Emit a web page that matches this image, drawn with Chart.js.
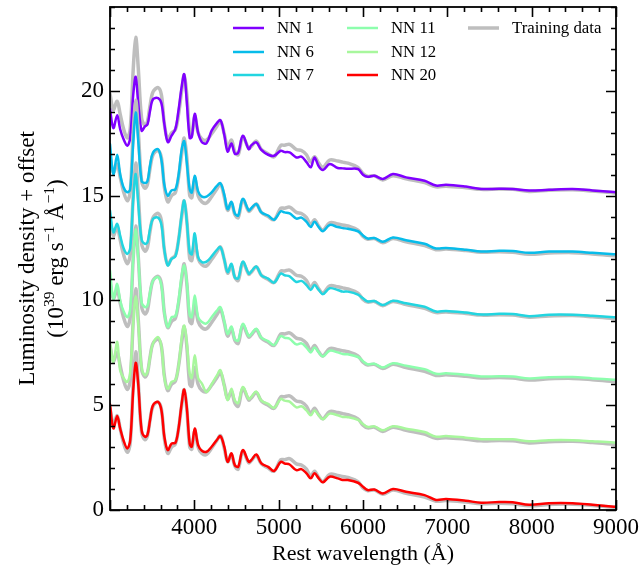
<!DOCTYPE html>
<html lang="en">
<head>
<meta charset="UTF-8" />
<title>NN spectra</title>
<script src="https://cdn.jsdelivr.net/npm/chart.js@4"></script>
<style>
  body { margin: 0; background: #fff; }
</style>
</head>
<body>
<canvas id="myChart" width="641" height="571"></canvas>
<script>
// rest wavelength grid (Angstrom)
const wavelength = [3000, 3040, 3085, 3120, 3160, 3205, 3240, 3275, 3305, 3335,
  3375, 3415, 3445, 3475, 3510, 3570, 3610, 3645, 3685, 3730,
  3775, 3810, 3850, 3880, 3910, 3945, 3970, 4005, 4045, 4090,
  4145, 4205, 4265, 4310, 4355, 4395, 4440, 4480, 4520, 4575,
  4645, 4675, 4735, 4795, 4875, 4945, 5025, 5070, 5130, 5210,
  5270, 5330, 5380, 5425, 5475, 5525, 5605, 5700, 5760, 5820,
  5940, 6000, 6055, 6135, 6235, 6355, 6510, 6730, 6865, 6985,
  7220, 7400, 7615, 7775, 7970, 8205, 8485, 8720, 8975, 9000];

// luminosity density, 1e39 erg/s/A, no offset
const trainingData = [4.85, 4.1, 4.5, 3.9, 3.2, 2.75, 3.2, 6.0, 7.55, 6.1,
  3.7, 3.35, 3.55, 4.3, 4.95, 5.15, 4.8, 3.4, 2.7, 3.0,
  3.15, 3.8, 5.0, 5.75, 4.85, 3.0, 2.9, 3.8, 3.0, 2.7,
  2.65, 2.95, 3.3, 3.55, 2.95, 2.3, 2.65, 2.1, 1.95, 2.8,
  2.25, 2.35, 2.6, 2.2, 2.0, 1.85, 2.4, 2.4, 2.45, 2.2,
  2.15, 1.95, 1.6, 1.85, 1.55, 1.35, 1.7, 1.65, 1.6, 1.55,
  1.35, 1.05, 0.92, 0.95, 0.75, 0.95, 0.8, 0.62, 0.42, 0.45,
  0.38, 0.3, 0.32, 0.3, 0.2, 0.26, 0.28, 0.22, 0.13, 0.12];

const nn1 = [4.13, 3.22, 3.84, 3.18, 2.7, 2.38, 2.78, 4.8, 5.67, 4.4,
  3.1, 3.3, 3.4, 4.05, 4.6, 4.65, 4.4, 3.4, 2.55, 2.86,
  3.18, 4.0, 5.2, 5.79, 4.5, 2.75, 2.8, 3.9, 3.0, 2.55,
  2.5, 3.1, 3.45, 3.6, 2.9, 2.1, 2.49, 2.0, 2.05, 2.86,
  2.22, 2.4, 2.54, 2.18, 1.95, 1.9, 2.14, 2.08, 2.06, 1.82,
  1.86, 1.6, 1.35, 1.82, 1.4, 1.22, 1.51, 1.32, 1.3, 1.28,
  1.27, 1.0, 0.9, 0.95, 0.79, 1.03, 0.87, 0.71, 0.48, 0.52,
  0.43, 0.32, 0.33, 0.32, 0.24, 0.28, 0.32, 0.25, 0.17, 0.16];

const nn6 = [5.46, 4.03, 4.95, 4.03, 3.4, 3.16, 3.3, 5.5, 6.97, 5.6,
  3.7, 3.6, 3.7, 4.45, 5.05, 5.22, 4.7, 3.5, 3.0, 3.25,
  3.3, 3.9, 5.2, 5.6, 4.6, 3.3, 3.15, 3.95, 3.2, 2.95,
  2.95, 3.15, 3.45, 3.59, 3.05, 2.35, 2.7, 2.15, 2.05, 2.85,
  2.3, 2.4, 2.6, 2.2, 2.05, 1.85, 2.25, 2.2, 2.15, 1.9,
  1.95, 1.75, 1.5, 1.75, 1.5, 1.3, 1.6, 1.5, 1.45, 1.42,
  1.3, 1.1, 0.95, 0.98, 0.8, 1.0, 0.87, 0.7, 0.48, 0.5,
  0.42, 0.33, 0.37, 0.36, 0.27, 0.33, 0.33, 0.27, 0.2, 0.2];

const nn7 = [5.29, 4.25, 4.65, 4.1, 3.5, 3.22, 3.5, 5.8, 7.03, 5.6,
  3.9, 3.7, 3.78, 4.41, 4.89, 4.95, 4.6, 3.4, 2.67, 2.98,
  3.1, 3.8, 5.1, 5.76, 4.8, 3.3, 3.2, 4.2, 3.06, 2.83,
  2.85, 3.1, 3.4, 3.54, 2.95, 2.35, 2.75, 2.1, 2.05, 2.85,
  2.28, 2.38, 2.62, 2.2, 2.04, 1.85, 2.28, 2.2, 2.15, 1.88,
  1.93, 1.73, 1.5, 1.73, 1.5, 1.3, 1.58, 1.5, 1.42, 1.42,
  1.28, 1.1, 0.95, 0.97, 0.78, 0.98, 0.86, 0.7, 0.47, 0.5,
  0.42, 0.33, 0.36, 0.35, 0.25, 0.32, 0.32, 0.27, 0.2, 0.19];

const nn11 = [5.43, 4.08, 4.79, 4.0, 3.5, 3.2, 3.6, 6.0, 7.4, 6.0,
  3.9, 3.68, 3.75, 4.4, 4.95, 5.11, 4.7, 3.4, 2.73, 3.2,
  3.25, 3.9, 5.2, 5.67, 4.9, 3.3, 3.2, 4.24, 3.2, 2.97,
  2.9, 3.2, 3.5, 3.68, 3.0, 2.4, 2.75, 2.15, 2.08, 2.88,
  2.3, 2.4, 2.65, 2.22, 2.06, 1.87, 2.3, 2.22, 2.17, 1.9,
  1.95, 1.75, 1.52, 1.75, 1.52, 1.33, 1.6, 1.52, 1.44, 1.43,
  1.3, 1.1, 0.95, 0.98, 0.8, 1.0, 0.88, 0.72, 0.5, 0.52,
  0.45, 0.37, 0.38, 0.37, 0.28, 0.33, 0.34, 0.28, 0.22, 0.21];

const nn12 = [4.94, 4.06, 5.02, 3.67, 3.3, 3.11, 3.6, 5.9, 7.2, 5.9,
  3.8, 3.43, 3.6, 4.3, 4.95, 5.25, 4.8, 3.3, 2.79, 3.11,
  3.2, 3.8, 5.2, 5.8, 5.0, 3.5, 3.3, 4.38, 3.3, 3.03,
  2.63, 3.0, 3.4, 3.67, 2.9, 2.24, 2.79, 2.24, 2.1, 2.87,
  2.3, 2.4, 2.65, 2.22, 2.06, 1.87, 2.3, 2.22, 2.17, 1.9,
  1.95, 1.75, 1.52, 1.75, 1.52, 1.33, 1.6, 1.52, 1.44, 1.43,
  1.3, 1.1, 0.96, 0.99, 0.8, 1.0, 0.88, 0.72, 0.5, 0.53,
  0.45, 0.38, 0.38, 0.37, 0.28, 0.33, 0.33, 0.28, 0.22, 0.2];

const nn20 = [5.05, 3.89, 4.48, 3.9, 3.33, 2.94, 3.33, 5.7, 7.02, 6.0,
  3.8, 3.49, 3.6, 4.29, 5.0, 5.16, 4.76, 3.49, 2.86, 3.17,
  3.2, 3.81, 5.08, 5.75, 4.92, 3.17, 3.02, 3.89, 3.1, 2.83,
  2.78, 3.02, 3.33, 3.52, 3.02, 2.3, 2.7, 2.14, 2.06, 2.86,
  2.3, 2.38, 2.65, 2.22, 2.06, 1.86, 2.3, 2.22, 2.17, 1.9,
  1.95, 1.75, 1.51, 1.75, 1.51, 1.32, 1.59, 1.51, 1.43, 1.43,
  1.3, 1.11, 0.95, 0.98, 0.79, 1.0, 0.87, 0.71, 0.48, 0.52,
  0.44, 0.35, 0.38, 0.37, 0.25, 0.32, 0.32, 0.25, 0.16, 0.15];

const modelNames = ['NN 1', 'NN 6', 'NN 7', 'NN 11', 'NN 12', 'NN 20'];
const modelSpectra = [nn1, nn6, nn7, nn11, nn12, nn20];
const offsets = [15, 12, 9, 6, 3, 0];
const modelColors = ['#8000ff', '#07bcea', '#22d5e0', '#8dfead', '#a8f79d', '#ff0000'];
const trainingColor = '#bebebe';

const xMajorTicks = [4000, 5000, 6000, 7000, 8000, 9000];
const yMajorTicks = [0, 5, 10, 15, 20];

const FONT = "'Liberation Serif', 'DejaVu Serif', serif";

function points(vals, off) {
  return wavelength.map((w, i) => ({ x: w, y: vals[i] + off }));
}

// grey training spectrum under each model, model drawn on top; later models over earlier
const datasets = [];
let order = 2 * modelNames.length;
modelNames.forEach((name, i) => {
  datasets.push({
    label: 'Training data',
    data: points(trainingData, offsets[i]),
    borderColor: trainingColor,
    borderWidth: 3.5,
    order: order--
  });
  datasets.push({
    label: name,
    data: points(modelSpectra[i], offsets[i]),
    borderColor: modelColors[i],
    borderWidth: 2.5,
    order: order--
  });
});

// frame with inward ticks on all four sides
const frameTicks = {
  id: 'frameTicks',
  afterDatasetsDraw(chart) {
    const { ctx, chartArea: a, scales: { x, y } } = chart;
    ctx.save();
    ctx.strokeStyle = '#000';
    ctx.lineWidth = 1.6;
    ctx.beginPath();
    for (let v = 3000; v <= 9000; v += 200) {
      const px = Math.round(x.getPixelForValue(v)) + 0.5;
      const len = v % 1000 === 0 ? 10 : 5;
      ctx.moveTo(px, a.bottom); ctx.lineTo(px, a.bottom - len);
      ctx.moveTo(px, a.top); ctx.lineTo(px, a.top + len);
    }
    for (let v = 0; v <= 24; v += 1) {
      const py = Math.round(y.getPixelForValue(v)) + 0.5;
      const len = v % 5 === 0 ? 10 : 5;
      ctx.moveTo(a.left, py); ctx.lineTo(a.left + len, py);
      ctx.moveTo(a.right, py); ctx.lineTo(a.right - len, py);
    }
    ctx.stroke();
    ctx.lineWidth = 1.8;
    ctx.strokeRect(a.left, a.top, a.right - a.left, a.bottom - a.top);
    ctx.restore();
  }
};

// three-column legend, filled column by column
const columnLegend = {
  id: 'columnLegend',
  afterDraw(chart) {
    const ctx = chart.ctx;
    const items = modelNames.map((n, i) => ({ text: n, color: modelColors[i] }));
    items.push({ text: 'Training data', color: trainingColor });
    const colX = [233, 347, 468];
    const rowY = [28, 52, 75];
    ctx.save();
    ctx.font = '16.8px ' + FONT;
    ctx.textBaseline = 'middle';
    ctx.fillStyle = '#000';
    items.forEach((it, k) => {
      const cx = colX[Math.floor(k / 3)];
      const cy = rowY[k % 3];
      ctx.strokeStyle = it.color;
      ctx.lineWidth = it.color === trainingColor ? 3.5 : 2.5;
      ctx.beginPath();
      ctx.moveTo(cx, cy); ctx.lineTo(cx + 31, cy);
      ctx.stroke();
      ctx.fillText(it.text, cx + 44, cy + 1);
    });
    ctx.restore();
  }
};

// y label: two rotated lines with superscripts
const yLabel = {
  id: 'yLabel',
  afterDraw(chart) {
    const ctx = chart.ctx;
    const a = chart.chartArea;
    const cy = (a.top + a.bottom) / 2;
    ctx.save();
    ctx.fillStyle = '#000';
    ctx.textBaseline = 'alphabetic';
    ctx.rotate(-Math.PI / 2);
    const main = '23px ' + FONT;
    const sup = '15.5px ' + FONT;
    ctx.font = main;
    const l1 = 'Luminosity density + offset';
    ctx.fillText(l1, -cy - ctx.measureText(l1).width / 2, 34);
    const parts = [['(10', main, 0], ['39', sup, -9], [' erg s', main, 0], ['\u22121', sup, -9],
      [' \u00c5', main, 0], ['\u22121', sup, -9], [')', main, 0]];
    let w = 0;
    parts.forEach(p => { ctx.font = p[1]; w += ctx.measureText(p[0]).width; });
    let xx = -cy - w / 2;
    parts.forEach(p => {
      ctx.font = p[1];
      ctx.fillText(p[0], xx, 63 + p[2]);
      xx += ctx.measureText(p[0]).width;
    });
    ctx.restore();
  }
};

new Chart(document.getElementById('myChart'), {
  type: 'line',
  data: { datasets },
  options: {
    responsive: false,
    animation: false,
    elements: {
      point: { radius: 0 },
      line: { tension: 0.35, fill: false, borderCapStyle: 'round', borderJoinStyle: 'round' }
    },
    layout: { padding: { top: 7, right: 25, left: 0, bottom: 0 } },
    plugins: { legend: { display: false }, tooltip: { enabled: false } },
    scales: {
      x: {
        type: 'linear',
        min: 3000,
        max: 9000,
        grid: { display: false, drawTicks: false },
        border: { display: false },
        afterBuildTicks: s => { s.ticks = xMajorTicks.map(v => ({ value: v })); },
        afterFit: s => { s.height = 61; s.paddingLeft = 0; s.paddingRight = 0; },
        ticks: {
          color: '#000',
          padding: 4,
          maxRotation: 0,
          font: { family: FONT, size: 23 },
          callback: v => String(v)
        },
        title: {
          display: true,
          text: 'Rest wavelength (\u00c5)',
          color: '#000',
          font: { family: FONT, size: 22 },
          padding: { top: 0, bottom: 4 }
        }
      },
      y: {
        type: 'linear',
        min: 0,
        max: 24,
        grid: { display: false, drawTicks: false },
        border: { display: false },
        afterBuildTicks: s => { s.ticks = yMajorTicks.map(v => ({ value: v })); },
        afterFit: s => { s.width = 110; s.paddingTop = 0; s.paddingBottom = 0; },
        ticks: {
          color: '#000',
          padding: 6,
          font: { family: FONT, size: 23 },
          callback: v => String(v)
        }
      }
    }
  },
  plugins: [frameTicks, columnLegend, yLabel]
});
</script>
</body>
</html>
